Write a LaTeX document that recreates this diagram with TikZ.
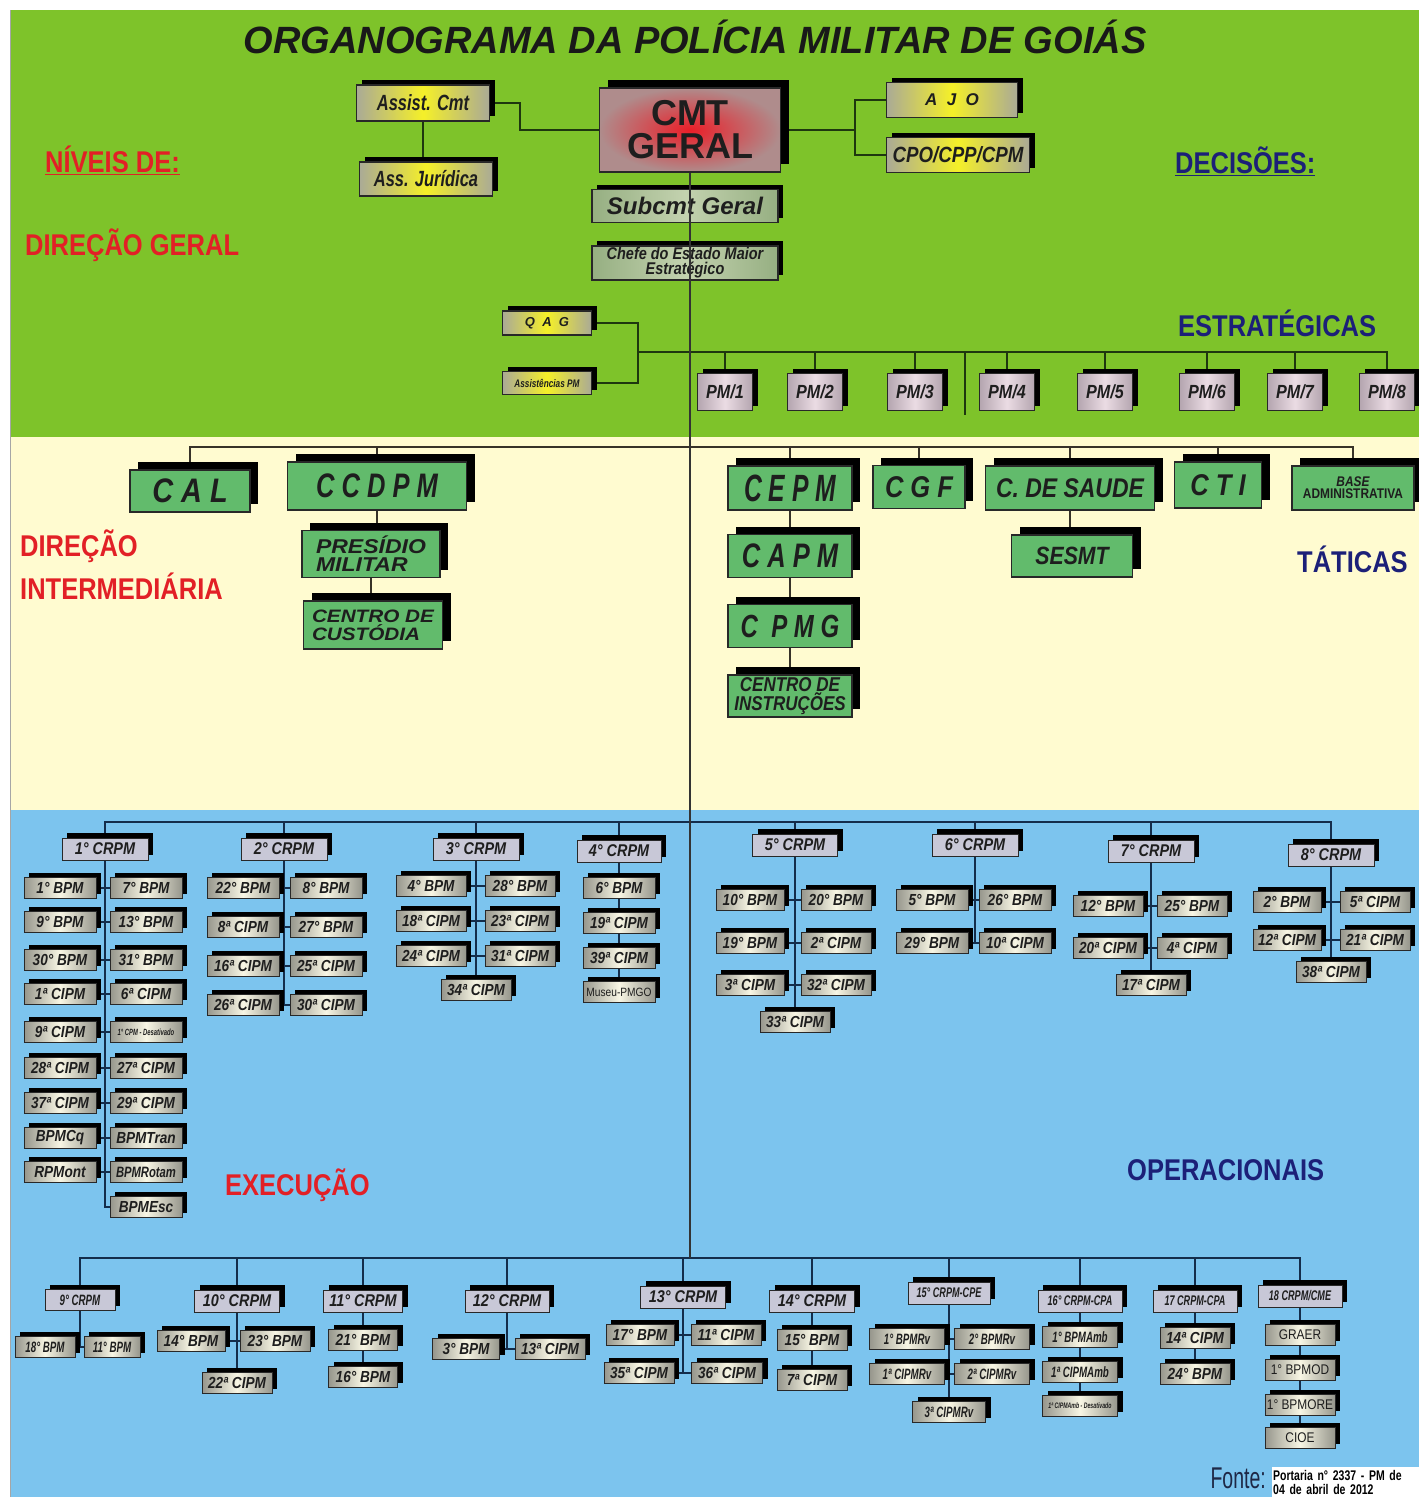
\documentclass[tikz,border=0pt]{standalone}
\usepackage{fontspec}
\setmainfont{Liberation Sans}
\newfontfamily\nar[FakeStretch=0.85]{Liberation Sans}
\newfontfamily\narr[FakeStretch=0.75]{Liberation Sans}
\newfontfamily\vnar[FakeStretch=0.65]{Liberation Sans}
\newfontfamily\wid[FakeStretch=1.15]{Liberation Sans}
\usetikzlibrary{shadows}
\newcommand*\fsz[1]{\fontsize{#1}{#1}\selectfont}
\newcommand*\fszl[2]{\fontsize{#1}{#2}\selectfont}
\definecolor{bggreen}{RGB}{126,195,42}
\definecolor{bgcream}{RGB}{255,251,208}
\definecolor{bgblue}{RGB}{124,196,238}
\definecolor{redL}{RGB}{226,32,38}
\definecolor{blueL}{RGB}{28,32,120}
\definecolor{txt}{RGB}{30,30,30}
\definecolor{bord}{RGB}{40,40,40}
\definecolor{gline}{RGB}{30,55,15}
\definecolor{cline}{RGB}{55,50,40}
\definecolor{bline}{RGB}{20,45,75}
\definecolor{boxgreen}{RGB}{98,187,108}
\definecolor{yedge}{RGB}{170,170,150}
\definecolor{ymid}{RGB}{245,240,40}
\definecolor{sedge}{RGB}{150,150,140}
\definecolor{smid}{RGB}{248,246,228}
\definecolor{crpmc}{RGB}{200,200,215}
\definecolor{pmedge}{RGB}{180,165,175}
\definecolor{pmmid}{RGB}{235,220,228}
\definecolor{sgedge}{RGB}{150,175,130}
\definecolor{sgmid}{RGB}{195,210,175}
\definecolor{cmtred}{RGB}{235,30,40}
\definecolor{cmtgray}{RGB}{175,140,140}
\definecolor{fontec}{RGB}{30,40,70}
\pgfdeclarelayer{bgfill}
\pgfdeclarelayer{lines}
\pgfsetlayers{bgfill,lines,main}
\tikzset{
  shA/.style={drop shadow={shadow xshift=5pt,shadow yshift=5pt,opacity=1,fill=black}},
  shB/.style={drop shadow={shadow xshift=8pt,shadow yshift=8pt,opacity=1,fill=black}},
  box/.style={draw=bord, line width=1.2pt, inner sep=0pt, align=center, text=txt},
  ybox/.style={box, shA, left color=yedge, right color=yedge, middle color=ymid, font=\narr\bfseries\itshape\fsz{22}},
  sub/.style={box, shA, line width=1pt, left color=sedge, right color=sedge, middle color=smid, minimum width=72pt, minimum height=21pt, font=\nar\bfseries\itshape\fsz{16}},
  crp/.style={box, shA, line width=1pt, fill=crpmc, minimum width=86pt, minimum height=22pt, font=\nar\bfseries\itshape\fsz{17}},
  gbox/.style={box, shB, fill=boxgreen},
  pmbox/.style={box, shA, left color=pmedge, right color=pmedge, middle color=pmmid, minimum width=55pt, minimum height=37pt, font=\nar\bfseries\itshape\fsz{19}},
  sgbox/.style={box, shA, left color=sgedge, right color=sgedge, middle color=sgmid, minimum width=186pt},
  redlbl/.style={text=redL, font=\nar\bfseries\fsz{30}, inner sep=0pt, anchor=west},
  bluelbl/.style={text=blueL, font=\nar\bfseries\fsz{30}, inner sep=0pt, anchor=west},
  gl/.style={draw=gline, line width=1.8pt},
  cl/.style={draw=cline, line width=1.8pt},
  bl/.style={draw=bline, line width=1.8pt},
  ml/.style={draw=black!80, line width=1.8pt},
  smallf/.style={font=\vnar\bfseries\itshape\fsz{15}},
}
\newcommand*\sbn[4][]{\node[sub,#1] (#2) at (#3) {#4};}
\newcommand*\crn[4][]{\node[crp,#1] (#2) at (#3) {#4};}
\begin{document}
\begin{tikzpicture}[x=1pt,y=-1pt]
\useasboundingbox (0,0) rectangle (1419,1497);
\begin{pgfonlayer}{bgfill}
\fill[white] (0,0) rectangle (1419,1497);
\fill[bggreen] (10,10) rectangle (1419,437);
\fill[bgcream] (10,437) rectangle (1419,810);
\fill[bgblue] (10,810) rectangle (1419,1497);
\draw[gray!70, line width=1pt] (10,10) -- (10,1497);
\end{pgfonlayer}

% title and level labels
\node[font=\bfseries\itshape\fsz{38}, text=black!90, inner sep=0pt] (title) at (695,37) {ORGANOGRAMA DA POLÍCIA MILITAR DE GOIÁS};
\node[redlbl] (niv) at (45,160) {\underline{NÍVEIS DE:}};
\node[redlbl] (dg) at (25,245) {DIREÇÃO GERAL};
\node[redlbl, align=left, font=\nar\bfseries\fszl{30}{43}] (di) at (20,565) {DIREÇÃO\\INTERMEDIÁRIA};
\node[redlbl] (ex) at (225,1185) {EXECUÇÃO};
\node[bluelbl] (dec) at (1175,161) {\underline{DECISÕES:}};
\node[bluelbl] (est) at (1178,323) {ESTRATÉGICAS};
\node[bluelbl] (tat) at (1297,559) {TÁTICAS};
\node[bluelbl] (op) at (1127,1170) {OPERACIONAIS};

% top level
\node[ybox, minimum width=133pt, minimum height=36pt] (assist) at (423,103) {Assist. Cmt};
\node[ybox, minimum width=133pt, minimum height=34pt] (jur) at (426,179) {Ass. Jurídica};
\node[box, shB, shading=radial, inner color=cmtred, outer color=cmtgray, minimum width=181pt, minimum height=84pt, font=\bfseries\fszl{36}{33}] (cmt) at (690,130) {CMT\\GERAL};
\node[ybox, minimum width=131pt, minimum height=35pt, font=\bfseries\itshape\fsz{17}] (ajo) at (952,100) {A\ \ J\ \ O};
\node[ybox, minimum width=143pt, minimum height=35pt, font=\nar\bfseries\itshape\fsz{22}] (cpo) at (958,155) {CPO/CPP/CPM};
\node[sgbox, minimum height=33pt, font=\bfseries\itshape\fsz{24}] (subcmt) at (685,206) {Subcmt Geral};
\node[sgbox, minimum height=34pt, font=\nar\bfseries\itshape\fszl{17}{15}] (chefe) at (685,263) {Chefe do Estado Maior\\Estratégico};
\node[ybox, minimum width=89pt, minimum height=24pt, font=\bfseries\itshape\fsz{13}] (qag) at (547,323) {Q\ \ A\ \ G};
\node[ybox, minimum width=89pt, minimum height=23pt, font=\narr\bfseries\itshape\fsz{11}] (apm) at (547,383) {Assistências PM};
\node[pmbox] (pm1) at (725,392) {PM/1};
\node[pmbox] (pm2) at (815,392) {PM/2};
\node[pmbox] (pm3) at (915,392) {PM/3};
\node[pmbox] (pm4) at (1007,392) {PM/4};
\node[pmbox] (pm5) at (1105,392) {PM/5};
\node[pmbox] (pm6) at (1207,392) {PM/6};
\node[pmbox] (pm7) at (1295,392) {PM/7};
\node[pmbox] (pm8) at (1387,392) {PM/8};

% intermediate level
\node[gbox, minimum width=120pt, minimum height=42pt, font=\nar\bfseries\itshape\fsz{34}] (cal) at (190,491) {C A L};
\node[gbox, minimum width=179pt, minimum height=48pt, font=\narr\bfseries\itshape\fsz{34}] (ccdpm) at (377,486) {C C D P M};
\node[gbox, minimum width=138pt, minimum height=47pt, align=left, font=\wid\bfseries\itshape\fszl{20}{18}] (pres) at (371,554) {PRESÍDIO\\MILITAR};
\node[gbox, minimum width=139pt, minimum height=48pt, align=left, font=\wid\bfseries\itshape\fszl{18}{18}] (cust) at (373,625) {CENTRO DE\\CUSTÓDIA};
\node[gbox, minimum width=124pt, minimum height=44pt, font=\vnar\bfseries\itshape\fsz{38}] (cepm) at (790,488) {C E P M};
\node[gbox, minimum width=124pt, minimum height=43pt, font=\narr\bfseries\itshape\fsz{34}] (capm) at (790,556) {C A P M};
\node[gbox, minimum width=124pt, minimum height=43pt, font=\narr\bfseries\itshape\fsz{32}] (cpmg) at (790,626) {C\ \ P M G};
\node[gbox, minimum width=124pt, minimum height=42pt, font=\nar\bfseries\itshape\fszl{20}{17}] (ci) at (790,696) {CENTRO DE\\INSTRUÇÕES};
\node[gbox, minimum width=92pt, minimum height=43pt, font=\nar\bfseries\itshape\fsz{30}] (cgf) at (919,487) {C G F};
\node[gbox, minimum width=169pt, minimum height=44pt, font=\nar\bfseries\itshape\fsz{27}] (saude) at (1070,488) {C. DE SAUDE};
\node[gbox, minimum width=121pt, minimum height=42pt, font=\nar\bfseries\itshape\fsz{25}] (sesmt) at (1072,556) {SESMT};
\node[gbox, minimum width=87pt, minimum height=46pt, font=\nar\bfseries\itshape\fsz{30}] (cti) at (1218,485) {C T I};
\node[gbox, minimum width=122pt, minimum height=44pt, font=\nar\bfseries\fszl{14}{12}] (base) at (1353,488) {{\itshape BASE}\\ADMINISTRATIVA};

% 1 CRPM
\crn{c1}{105,849}{1° CRPM}
\sbn{a1}{60,888}{1° BPM} \sbn{b1}{146,888}{7° BPM}
\sbn{a2}{60,922}{9° BPM} \sbn{b2}{146,922}{13° BPM}
\sbn{a3}{60,960}{30° BPM} \sbn{b3}{146,960}{31° BPM}
\sbn{a4}{60,994}{1ª CIPM} \sbn{b4}{146,994}{6ª CIPM}
\sbn{a5}{60,1032}{9ª CIPM} \sbn[font=\vnar\bfseries\itshape\fsz{9}]{b5}{146,1032}{1° CPM - Desativado}
\sbn{a6}{60,1068}{28ª CIPM} \sbn{b6}{146,1068}{27ª CIPM}
\sbn{a7}{60,1103}{37ª CIPM} \sbn{b7}{146,1103}{29ª CIPM}
\sbn{a8}{60,1138}{BPMCq} \sbn{b8}{146,1138}{BPMTran}
\sbn{a9}{60,1172}{RPMont} \sbn[font=\narr\bfseries\itshape\fsz{15}]{b9}{146,1172}{BPMRotam}
\sbn{b10}{146,1207}{BPMEsc}
% 2 CRPM
\crn{c2}{284,849}{2° CRPM}
\sbn{e1}{243,888}{22° BPM} \sbn{f1}{326,888}{8° BPM}
\sbn{e2}{243,927}{8ª CIPM} \sbn{f2}{326,927}{27° BPM}
\sbn{e3}{243,966}{16ª CIPM} \sbn{f3}{326,966}{25ª CIPM}
\sbn{e4}{243,1005}{26ª CIPM} \sbn{f4}{326,1005}{30ª CIPM}
% 3 CRPM
\crn{c3}{476,849}{3° CRPM}
\sbn[minimum width=70pt]{g1}{431,886}{4° BPM} \sbn[minimum width=70pt]{h1}{520,886}{28° BPM}
\sbn[minimum width=70pt]{g2}{431,921}{18ª CIPM} \sbn[minimum width=70pt]{h2}{520,921}{23ª CIPM}
\sbn[minimum width=70pt]{g3}{431,956}{24ª CIPM} \sbn[minimum width=70pt]{h3}{520,956}{31ª CIPM}
\sbn[minimum width=70pt]{g4}{476,990}{34ª CIPM}
% 4 CRPM
\crn[minimum width=84pt]{c4}{619,851}{4° CRPM}
\sbn{k1}{619,888}{6° BPM}
\sbn{k2}{619,923}{19ª CIPM}
\sbn{k3}{619,958}{39ª CIPM}
\sbn[font=\nar\fsz{12}]{k4}{619,992}{Museu-PMGO}
% 5 CRPM
\crn[minimum width=85pt]{c5}{795,845}{5° CRPM}
\sbn[minimum width=68pt]{m1}{750,900}{10° BPM} \sbn[minimum width=70pt]{n1}{836,900}{20° BPM}
\sbn[minimum width=68pt]{m2}{750,943}{19° BPM} \sbn[minimum width=70pt]{n2}{836,943}{2ª CIPM}
\sbn[minimum width=68pt]{m3}{750,985}{3ª CIPM} \sbn[minimum width=70pt]{n3}{836,985}{32ª CIPM}
\sbn[minimum width=70pt]{m4}{795,1022}{33ª CIPM}
% 6 CRPM
\crn{c6}{975,845}{6° CRPM}
\sbn{p1}{932,900}{5° BPM} \sbn{q1}{1015,900}{26° BPM}
\sbn{p2}{932,943}{29° BPM} \sbn{q2}{1015,943}{10ª CIPM}
% 7 CRPM
\crn{c7}{1151,851}{7° CRPM}
\sbn[minimum width=70pt]{r1}{1108,906}{12° BPM} \sbn[minimum width=70pt]{s1}{1192,906}{25° BPM}
\sbn[minimum width=70pt]{r2}{1108,948}{20ª CIPM} \sbn[minimum width=70pt]{s2}{1192,948}{4ª CIPM}
\sbn[minimum width=70pt]{r3}{1151,985}{17ª CIPM}
% 8 CRPM
\crn{c8}{1331,855}{8° CRPM}
\sbn[minimum width=68pt]{t1}{1287,902}{2° BPM} \sbn[minimum width=70pt]{u1}{1375,902}{5ª CIPM}
\sbn[minimum width=68pt]{t2}{1287,940}{12ª CIPM} \sbn[minimum width=70pt]{u2}{1375,940}{21ª CIPM}
\sbn[minimum width=70pt]{t3}{1331,972}{38ª CIPM}

% bottom row
\crn[minimum width=70pt, minimum height=21pt, smallf]{c9}{80,1300}{9° CRPM}
\sbn[minimum width=60pt, smallf]{v1}{45,1347}{18° BPM} \sbn[minimum width=56pt, smallf]{v2}{112,1347}{11° BPM}
\crn[minimum width=85pt]{c10}{237,1301}{10° CRPM}
\sbn[minimum width=68pt]{w1}{191,1341}{14° BPM} \sbn[minimum width=70pt]{w2}{275,1341}{23° BPM}
\sbn[minimum width=70pt]{w3}{237,1383}{22ª CIPM}
\crn[minimum width=79pt]{c11}{363,1301}{11° CRPM}
\sbn[minimum width=69pt]{x1}{363,1340}{21° BPM}
\sbn[minimum width=69pt]{x2}{363,1377}{16° BPM}
\crn[minimum width=84pt]{c12}{507,1301}{12° CRPM}
\sbn[minimum width=67pt]{y1}{466,1349}{3° BPM} \sbn[minimum width=70pt]{y2}{550,1349}{13ª CIPM}
\crn[minimum width=85pt]{c13}{683,1297}{13° CRPM}
\sbn[minimum width=68pt]{z1}{640,1335}{17° BPM} \sbn[minimum width=70pt]{z2}{726,1335}{11ª CIPM}
\sbn[minimum width=70pt]{z3}{639,1373}{35ª CIPM} \sbn[minimum width=71pt]{z4}{727,1373}{36ª CIPM}
\crn[minimum width=85pt]{c14}{812,1301}{14° CRPM}
\sbn[minimum width=70pt]{o1}{812,1340}{15° BPM}
\sbn[minimum width=70pt]{o2}{812,1380}{7ª CIPM}
\crn[minimum width=82pt, font=\vnar\bfseries\itshape\fsz{14}]{c15}{949,1293}{15° CRPM-CPE}
\sbn[minimum width=75pt, smallf]{i1}{907,1339}{1° BPMRv} \sbn[minimum width=75pt, smallf]{i2}{992,1339}{2° BPMRv}
\sbn[minimum width=75pt, smallf]{i3}{907,1374}{1ª CIPMRv} \sbn[minimum width=75pt, smallf]{i4}{992,1374}{2ª CIPMRv}
\sbn[minimum width=73pt, smallf]{i5}{949,1412}{3ª CIPMRv}
\crn[minimum width=84pt, font=\vnar\bfseries\itshape\fsz{14}]{c16}{1080,1301}{16° CRPM-CPA}
\sbn[minimum width=75pt, smallf]{j1}{1080,1337}{1° BPMAmb}
\sbn[minimum width=75pt, smallf]{j2}{1080,1372}{1ª CIPMAmb}
\sbn[minimum width=75pt, font=\vnar\bfseries\itshape\fsz{8}]{j3}{1080,1406}{1ª CIPMAmb - Desativado}
\crn[minimum width=84pt, font=\vnar\bfseries\itshape\fsz{14}]{c17}{1195,1301}{17 CRPM-CPA}
\sbn[minimum width=70pt]{l1}{1195,1338}{14ª CIPM}
\sbn[minimum width=70pt]{l2}{1195,1374}{24° BPM}
\crn[minimum width=84pt, font=\vnar\bfseries\itshape\fsz{14}]{c18}{1300,1296}{18 CRPM/CME}
\sbn[minimum width=70pt, font=\nar\fsz{14}]{g18a}{1300,1335}{GRAER}
\sbn[minimum width=70pt, font=\nar\fsz{14}]{g18b}{1300,1370}{1° BPMOD}
\sbn[minimum width=70pt, font=\nar\fsz{14}]{g18c}{1300,1405}{1° BPMORE}
\sbn[minimum width=70pt, font=\nar\fsz{14}]{g18d}{1300,1438}{CIOE}

% source
\node[font=\vnar\fsz{30}, text=fontec, anchor=east, inner sep=0pt] (fonte) at (1266,1478) {Fonte:};
\node[fill=white, inner sep=1pt, anchor=north west, minimum height=30pt, text width=145pt, align=left, font=\narr\bfseries\fszl{14}{14}, text=black] (port) at (1272,1467) {Portaria n° 2337 - PM de\\04 de abril de 2012};

\coordinate (rbr) at (855,130);
\coordinate (qb) at (638,352);
\coordinate (tick) at (965,415);
\coordinate (cb) at (690,447);
\coordinate (tb) at (690,822);
\coordinate (bb) at (690,1258);

\begin{pgfonlayer}{lines}
% green
\draw[gl] (assist.south) -- (assist.south |- jur.north);
\draw[gl] (assist.east) -- ++(30,0) |- (cmt.west);
\draw[gl] (cmt.east) -- (rbr);
\draw[gl] (ajo.west) -| (rbr) |- (cpo.west);
\draw[gl] (qag.east) -| (qb) |- (apm.east);
\draw[gl] (qb) -- (pm8.north |- qb) -- (pm8.north);
\foreach \p in {pm1,pm2,pm3,pm4,pm5,pm6,pm7} \draw[gl] (\p.north) -- (\p.north |- qb);
\draw[gl] (tick |- qb) -- (tick);
% cream
\draw[cl] (cal.north) -- (cal.north |- cb) -- (base.north |- cb) -- (base.north);
\foreach \n in {ccdpm,cepm,cgf,saude,cti} \draw[cl] (\n.north) -- (\n.north |- cb);
\draw[cl] (ccdpm.south) -- (ccdpm.south |- pres.north);
\draw[cl] (pres.south) -- (pres.south |- cust.north);
\draw[cl] (cepm.south) -- (ci.north);
\draw[cl] (saude.south) -- (saude.south |- sesmt.north);
% blue top
\draw[bl] (c1.north) -- (c1.north |- tb) -- (c8.north |- tb) -- (c8.north);
\foreach \n in {c2,c3,c4,c5,c6,c7} \draw[bl] (\n.north) -- (\n.north |- tb);
\draw[bl] (c1.south) -- (c1.south |- b10.west) -- (b10.west);
\foreach \i in {1,...,9} \draw[bl] (a\i.east) -- (b\i.west);
\draw[bl] (c2.south) -- (c2.south |- e4.east);
\foreach \i in {1,...,4} \draw[bl] (e\i.east) -- (f\i.west);
\draw[bl] (c3.south) -- (g4.north);
\foreach \i in {1,2,3} \draw[bl] (g\i.east) -- (h\i.west);
\draw[bl] (c4.south) -- (k4.north);
\draw[bl] (c5.south) -- (m4.north);
\foreach \i in {1,2,3} \draw[bl] (m\i.east) -- (n\i.west);
\draw[bl] (c6.south) -- (c6.south |- p2.east);
\foreach \i in {1,2} \draw[bl] (p\i.east) -- (q\i.west);
\draw[bl] (c7.south) -- (r3.north);
\foreach \i in {1,2} \draw[bl] (r\i.east) -- (s\i.west);
\draw[bl] (c8.south) -- (t3.north);
\foreach \i in {1,2} \draw[bl] (t\i.east) -- (u\i.west);
% blue bottom
\draw[bl] (c9.north) -- (c9.north |- bb) -- (c18.north |- bb) -- (c18.north);
\foreach \n in {c10,c11,c12,c13,c14,c15,c16,c17} \draw[bl] (\n.north) -- (\n.north |- bb);
\draw[bl] (c9.south) -- (c9.south |- v1.east);
\draw[bl] (v1.east) -- (v2.west);
\draw[bl] (c10.south) -- (w3.north);
\draw[bl] (w1.east) -- (w2.west);
\draw[bl] (c11.south) -- (x2.north);
\draw[bl] (c12.south) -- (c12.south |- y1.east);
\draw[bl] (y1.east) -- (y2.west);
\draw[bl] (c13.south) -- (c13.south |- z3.east);
\draw[bl] (z1.east) -- (z2.west);
\draw[bl] (z3.east) -- (z4.west);
\draw[bl] (c14.south) -- (o2.north);
\draw[bl] (c15.south) -- (i5.north);
\draw[bl] (i1.east) -- (i2.west);
\draw[bl] (i3.east) -- (i4.west);
\draw[bl] (c16.south) -- (j3.north);
\draw[bl] (c17.south) -- (l2.north);
\draw[bl] (c18.south) -- (g18d.north);
\end{pgfonlayer}
% main vertical line
\draw[ml] (cmt.south) -- (bb);
\end{tikzpicture}
\end{document}
